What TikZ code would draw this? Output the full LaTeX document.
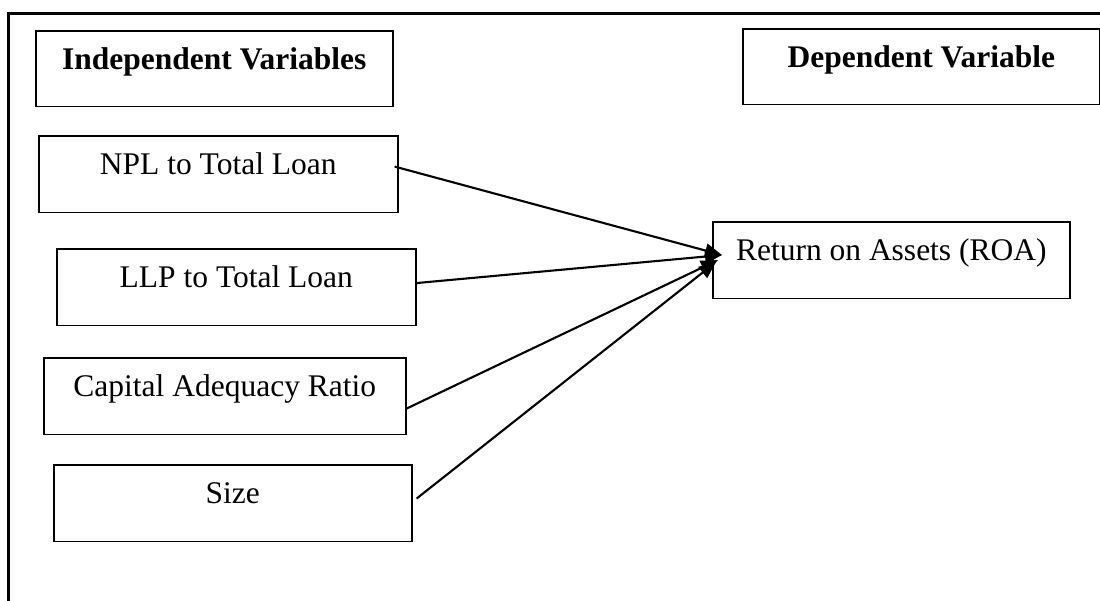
\documentclass[tikz,border=0pt]{standalone}
\usepackage{fontspec}
\setmainfont{Liberation Serif}
\usetikzlibrary{arrows.meta}
\begin{document}
\begin{tikzpicture}[x=1pt,y=-1pt,
  varbox/.style={draw, line width=1.6pt, rectangle, inner xsep=0pt, inner ysep=0pt,
    text height=39pt, text depth=37.5pt, minimum width=#1, anchor=north west,
    font=\fontsize{31.5pt}{36pt}\selectfont},
  headbox/.style={varbox=#1, text depth=36.5pt, font=\fontsize{31.5pt}{36pt}\selectfont\bfseries},
  arr/.style={line width=2.1pt, -{Triangle[length=17pt,width=14pt]}}]
\useasboundingbox (0,0) rectangle (1100,600);
\clip (0,0) rectangle (1100,600);
\draw[line width=3pt] (8,13) rectangle (1120,620);

\node[headbox=357pt] (indep) at (35,30) {Independent Variables};
\node[headbox=357pt] (dep) at (742,28) {Dependent Variable};

\node[varbox=359pt] (npl) at (38,135) {NPL to Total Loan};
\node[varbox=359pt] (llp) at (56,248) {LLP to Total Loan};
\node[varbox=362pt] (car) at (43,357) {Capital Adequacy Ratio};
\node[varbox=358pt] (size) at (53,464) {Size};
\node[varbox=357pt] (roa) at (712,221) {Return on Assets (ROA)};

\coordinate (hubA) at (722,255);
\coordinate (hubB) at (718,260);
\coordinate (hubC) at (716,262);

\draw[arr] ([xshift=-4pt,yshift=7.5pt]npl.east) -- (hubA);
\draw[arr] ([yshift=4pt]llp.east) -- (hubA);
\draw[arr] ([yshift=-12.5pt]car.east) -- (hubB);
\draw[arr] ([xshift=4pt,yshift=4.5pt]size.east) -- (hubC);
\end{tikzpicture}
\end{document}
